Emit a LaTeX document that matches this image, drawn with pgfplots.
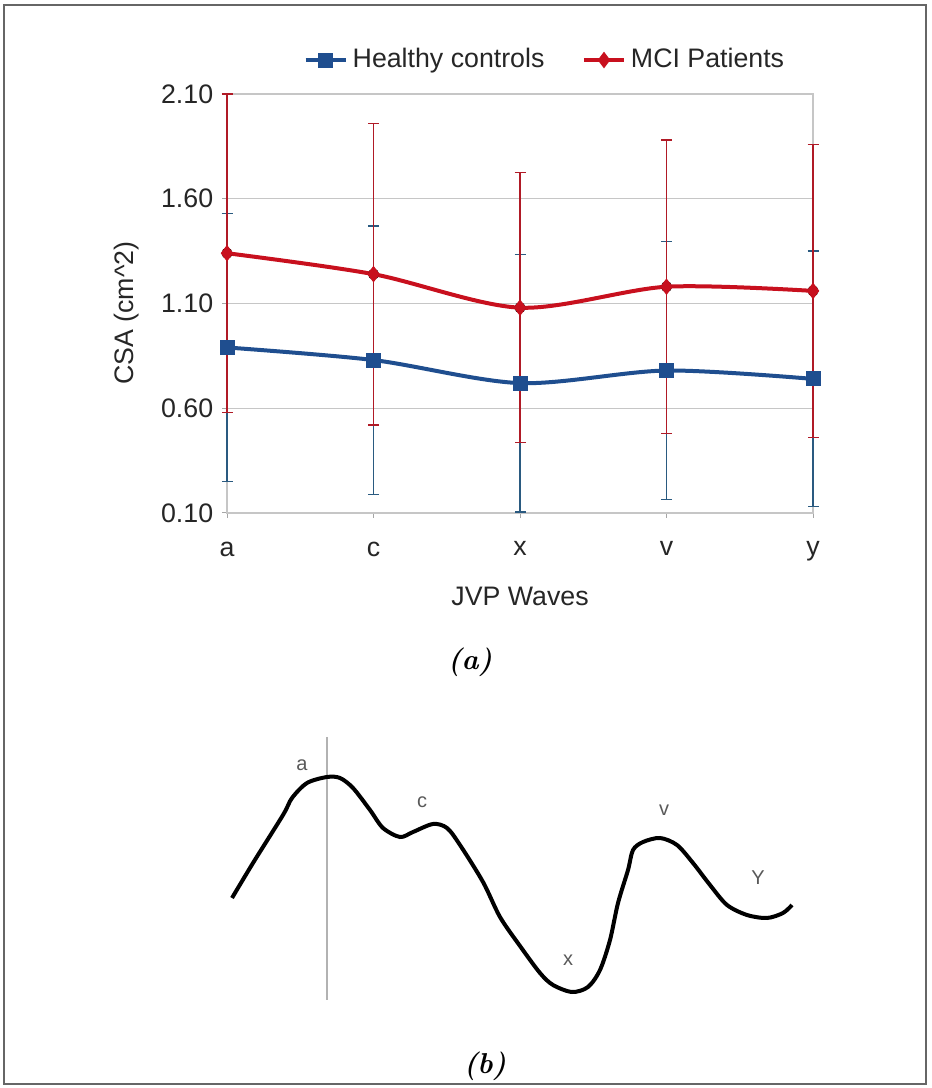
\documentclass[border=0pt]{standalone}
\usepackage{fontspec}
\usepackage{pgfplots}
\usepackage{pgfplotstable}
\pgfplotsset{compat=1.18}
\newfontfamily\arial{Liberation Sans}
\definecolor{hcblue}{HTML}{1F4E8F}
\definecolor{mcired}{HTML}{C8101E}
\definecolor{hcbar}{HTML}{2A5A80}
\definecolor{mcibar}{HTML}{B01A26}

% CSA per JVP wave, mean and SD
\pgfplotstableread{
x hc hcerr mci mcierr
0 0.89 0.64 1.34 0.76
1 0.83 0.64 1.24 0.72
2 0.72 0.615 1.08 0.645
3 0.78 0.615 1.18 0.70
4 0.74 0.61 1.16 0.70
}\csadata

% JVP waveform (px, 1088 - py)
\pgfplotstableread{
px py
232 190
253 225
283 273
292 290
307 305
327 311
340 310
353 300
370 278
383 260
400 251
413 256
433 264
447 260
460 243
483 206
500 171
520 142
540 115
553 103
572 96
588 101
600 118
610 148
618 185
628 218
633 238
643 246
660 250
677 243
693 225
710 203
727 183
747 173
767 170
783 175
792 183
}\jvpwave

\begin{document}
\begin{tikzpicture}
\useasboundingbox (0,0) rectangle (372.4pt,435.2pt);
\draw[black!60, line width=0.6pt] (1.6pt,1.6pt) rectangle (370.4pt,433.2pt);

\begin{axis}[
  at={(90.8pt,230pt)}, anchor=south west,
  scale only axis, width=234.4pt, height=167.6pt,
  xmin=0, xmax=4, ymin=0.1, ymax=2.1,
  xtick={0,1,2,3,4}, xticklabels={a,c,x,v,y},
  ytick={0.1,0.6,1.1,1.6,2.1},
  yticklabel style={/pgf/number format/.cd, fixed, fixed zerofill, precision=2},
  xticklabel style={yshift=-6pt},
  /pgf/number format/assume math mode=true,
  ymajorgrids,
  major grid style={gray!45, line width=0.5pt},
  axis line style={gray!45, line width=0.5pt},
  tick style={gray!70, line width=0.4pt},
  major tick length=2pt,
  tick align=outside, tick pos=left,
  tick label style={font=\arial\fontsize{10.7}{12}\selectfont, text=black!85},
  label style={font=\arial\fontsize{10.7}{12}\selectfont, text=black!85},
  xlabel={JVP Waves},
  xlabel style={at={(axis description cs:0.5,-0.22)}, anchor=base},
  ylabel={CSA (cm\textasciicircum 2)},
  ylabel style={at={(axis description cs:-0.16,0.477)}, anchor=base},
  legend columns=2,
  legend style={at={(axis description cs:0.13,1.081)}, anchor=west,
    draw=none, fill=none, inner sep=0pt,
    font=\arial\fontsize{10.7}{12}\selectfont, text=black!85,
    /tikz/every even column/.append style={column sep=13pt}},
  legend image code/.code={\draw[mark repeat=2,mark phase=2] plot coordinates {(0pt,0pt) (8pt,0pt) (16pt,0pt)};},
  clip=false,
]
  \addplot[forget plot, only marks, mark=none,
    error bars/.cd, y dir=both, y explicit,
    error bar style={hcbar, line width=0.5pt},
    error mark options={rotate=90, mark size=2.2pt, hcbar, line width=0.5pt}]
    table[x=x, y=hc, y error=hcerr] {\csadata};
  \addplot[forget plot, only marks, mark=none,
    error bars/.cd, y dir=both, y explicit,
    error bar style={mcibar, line width=0.5pt},
    error mark options={rotate=90, mark size=2.2pt, mcibar, line width=0.5pt}]
    table[x=x, y=mci, y error=mcierr] {\csadata};
  \addplot[hcblue, line width=1.6pt, smooth, tension=0.5,
    mark=square*, mark size=2.8pt, mark options={line width=0.4pt}]
    table[x=x, y=hc] {\csadata};
  \addplot[mcired, line width=1.6pt, smooth, tension=0.5,
    mark=diamond*, mark size=3pt, mark options={line width=0.4pt}]
    table[x=x, y=mci] {\csadata};
  \legend{Healthy controls, MCI Patients}
\end{axis}

\node[font=\fontsize{11.5}{13}\selectfont\bfseries\itshape] at (188pt,170.4pt) {(a)};

\begin{axis}[
  at={(90pt,31.2pt)}, anchor=south west,
  scale only axis, width=230pt, height=112pt,
  xmin=225, xmax=800, ymin=78, ymax=358,
  axis lines=none, clip=false,
]
  \addplot[gray!60, line width=1.1pt] coordinates {(327,351) (327,88)};
  \addplot[black, line width=1.6pt, smooth, tension=0.5] table[x=px, y=py] {\jvpwave};
  \node[font=\arial\fontsize{8}{9}\selectfont, text=black!65] at (axis cs:302,323) {a};
  \node[font=\arial\fontsize{8}{9}\selectfont, text=black!65] at (axis cs:422,286) {c};
  \node[font=\arial\fontsize{8}{9}\selectfont, text=black!65] at (axis cs:568,128) {x};
  \node[font=\arial\fontsize{8}{9}\selectfont, text=black!65] at (axis cs:664,278) {v};
  \node[font=\arial\fontsize{8}{9}\selectfont, text=black!65] at (axis cs:758,210) {Y};
\end{axis}

\node[font=\fontsize{11.5}{13}\selectfont\bfseries\itshape] at (194pt,8.8pt) {(b)};
\end{tikzpicture}
\end{document}
